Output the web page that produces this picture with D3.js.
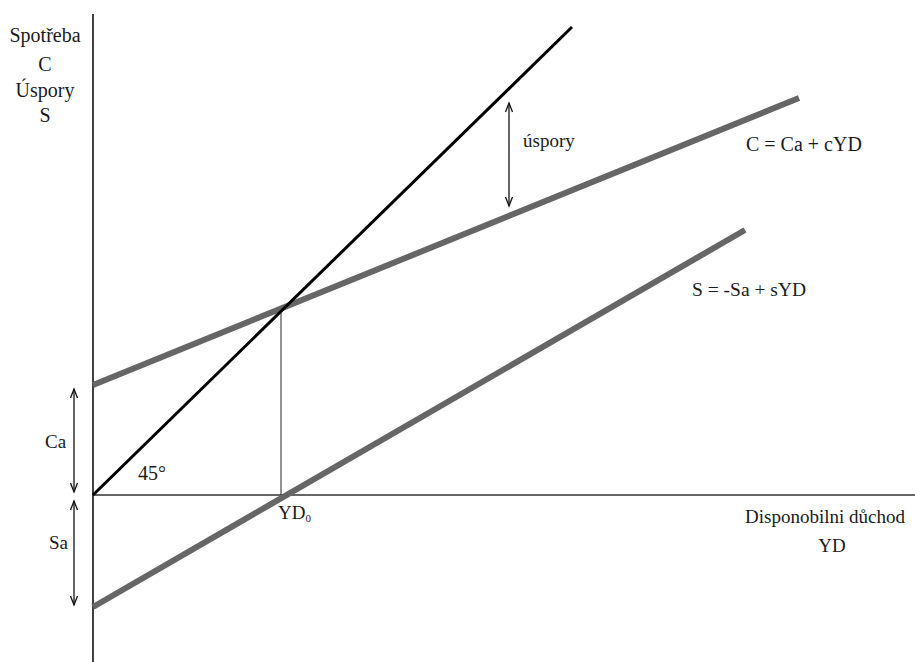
<!DOCTYPE html>
<html>
<head>
<meta charset="utf-8">
<script src="https://cdn.jsdelivr.net/npm/d3@7"></script>
<style>
  body { margin: 0; background: #fff; }
</style>
</head>
<body>
<div id="chart"></div>
<script>
// values (YD on x, C / S on y)
const yd45 = [0, 47.9];
const val45 = [0, 46.8];
const ydC = [0, 70.6];
const valC = [11.0, 39.7];
const ydS = [0, 65.2];
const valS = [-11.2, 26.5];
const yd0 = 18.8;
const cAtYd0 = 18.6;
const Ca = 11.0;
const Sa = -11.2;

const width = 915
const height = 662
const serif = "'Liberation Serif', 'Times New Roman', Times, serif"

const x = d3.scaleLinear().domain([0, 82.2]).range([93, width]);
const y = d3.scaleLinear().domain([-16.7, 49.5]).range([height, 0]);

const svg = d3.select("#chart")
  .append("svg")
  .attr("width", width)
  .attr("height", height)

const line = d3.line()
  .x(d => x(d[0]))
  .y(d => y(d[1]));

// axes
svg.append("path")
  .attr("d", line([[0, 48.1], [0, -16.7]]))
  .attr("stroke", "#111").attr("stroke-width", 1.6).attr("fill", "none");
svg.append("path")
  .attr("d", line([[0, 0], [82.2, 0]]))
  .attr("stroke", "#333").attr("stroke-width", 1.6).attr("fill", "none");

// YD0 drop line
svg.append("path")
  .attr("d", line([[yd0, 0], [yd0, cAtYd0]]))
  .attr("stroke", "#222").attr("stroke-width", 1).attr("fill", "none");

// C and S functions
svg.append("path")
  .attr("d", line(d3.zip(ydC, valC)))
  .attr("stroke", "#666").attr("stroke-width", 6).attr("fill", "none");
svg.append("path")
  .attr("d", line(d3.zip(ydS, valS)))
  .attr("stroke", "#666").attr("stroke-width", 6).attr("fill", "none");

// 45 degree line
svg.append("path")
  .attr("d", line(d3.zip(yd45, val45)))
  .attr("stroke", "#000").attr("stroke-width", 3).attr("fill", "none");

// double arrows
function dblArrow(xv, y1, y2) {
  const px = x(xv), a = y(y1), b = y(y2);
  const g = svg.append("g").attr("fill", "none").attr("stroke", "#111").attr("stroke-width", 1.3);
  g.append("path").attr("d", `M${px},${a}L${px},${b}`);
  g.append("path").attr("d", `M${px - 3.5},${a + 9}L${px},${a}L${px + 3.5},${a + 9}`);
  g.append("path").attr("d", `M${px - 3.5},${b - 9}L${px},${b}L${px + 3.5},${b - 9}`);
}
dblArrow(-1.9, Ca - 0.4, 0.3);
dblArrow(-1.9, -0.6, Sa + 0.2);
dblArrow(41.6, 39.2, 28.9);

function label(txt, xv, yv, anchor, size) {
  return svg.append("text")
    .attr("x", x(xv)).attr("y", y(yv))
    .attr("text-anchor", anchor || "start")
    .attr("font-family", serif)
    .attr("font-size", size || 19)
    .attr("fill", "#1a1a1a")
    .text(txt);
}

// y axis title
label("Spotřeba", -4.8, 45.3, "middle", 20);
label("C", -4.8, 42.4, "middle", 20);
label("Úspory", -4.8, 39.8, "middle", 20);
label("S", -4.8, 37.3, "middle", 20);

// x axis title
label("Disponobilni důchod", 73.2, -2.8, "middle", 19);
label("YD", 73.9, -5.7, "middle", 19);

label("Ca", -4.8, 4.7, "start", 19);
label("Sa", -4.4, -5.4, "start", 19);
label("45°", 4.5, 1.5, "start", 20);
label("úspory", 43.0, 34.8, "start", 19);
label("C = Ca + cYD", 65.3, 34.4, "start", 20);
label("S = -Sa + sYD", 59.9, 19.9, "start", 19.5);

const yd0Label = label("YD", 18.5, -2.4, "start", 19);
yd0Label.append("tspan").attr("font-size", 11).attr("dy", 3).text("0");
</script>
</body>
</html>
